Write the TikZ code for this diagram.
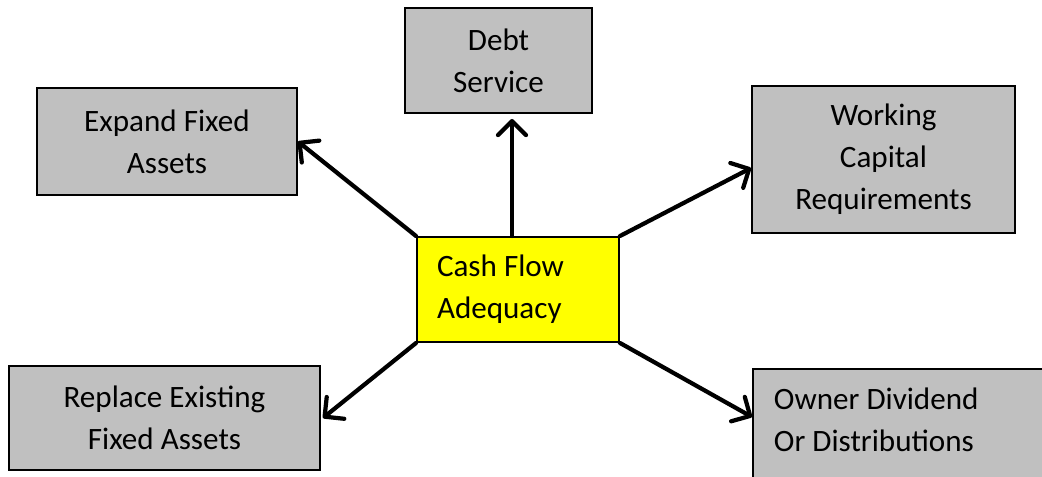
\documentclass[tikz,border=0pt]{standalone}
\usepackage{fontspec}
\setmainfont{Carlito}
\usepackage{tikz}
\usetikzlibrary{arrows.meta}

\definecolor{boxgray}{HTML}{C0C0C0}
\definecolor{cashyellow}{HTML}{FFFF00}
\tikzset{
  box/.style={draw=black, line width=1.1pt, fill=boxgray, align=center, inner sep=0pt},
  arr/.style={line width=2.4pt, line cap=round, -{Straight Barb[length=0.28cm, width=0.56cm, line cap=round, line join=round]}}
}

\begin{document}
\begin{tikzpicture}[font=\fontsize{17.7}{23.9}\selectfont]
  \useasboundingbox (0,0) rectangle (20.84,9.52);
  % outer boxes
  \node[box, minimum width=3.74cm, minimum height=2.1cm] (debt) at (9.97,8.31) {Debt\\Service};
  \node[box, minimum width=5.2cm, minimum height=2.14cm] (expand) at (3.34,6.69) {Expand Fixed\\Assets};
  \node[box, minimum width=5.26cm, minimum height=2.94cm] (working) at (17.67,6.33) {Working\\Capital\\Requirements};
  \node[box, minimum width=6.22cm, minimum height=2.08cm] (replace) at (3.29,1.16) {Replace Existing\\Fixed Assets};
  % runs off the page at the right and bottom
  \node[box, align=flush left, text width=7cm, text depth=1.1cm, inner xsep=0.42cm, minimum height=2.3cm, anchor=north west] (owner) at (15.04,2.16) {Owner Dividend\\Or Distributions};
  % centre box
  \node[box, fill=cashyellow, align=flush left, text width=3.24cm, inner xsep=0.4cm, minimum height=2.1cm] (cash) at (10.36,3.73) {Cash Flow\\Adequacy};
  % arrows out of the centre
  \draw[arr, shorten >=0.1cm] ([xshift=-0.12cm]cash.north) -- ([xshift=-0.12cm]cash.north |- debt.south);
  \draw[arr] (cash.north west) -- (expand.east);
  \draw[arr] (cash.north east) -- ([yshift=-0.17cm]working.west);
  \draw[arr] (cash.south west) -- ([xshift=0.04cm]replace.east);
  \draw[arr] (cash.south east) -- ([yshift=0.19cm]owner.west);
\end{tikzpicture}
\end{document}
